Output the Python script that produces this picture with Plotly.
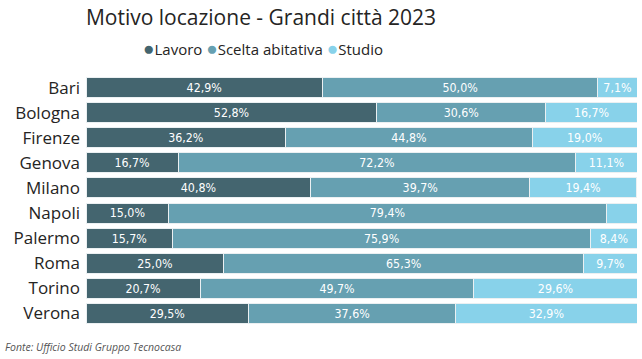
import plotly.graph_objects as go

cities = ["Bari", "Bologna", "Firenze", "Genova", "Milano", "Napoli", "Palermo", "Roma", "Torino", "Verona"]
lavoro = [42.9, 52.8, 36.2, 16.7, 40.8, 15.0, 15.7, 25.0, 20.7, 29.5]
scelta = [50.0, 30.6, 44.8, 72.2, 39.7, 79.4, 75.9, 65.3, 49.7, 37.6]
studio = [7.1, 16.7, 19.0, 11.1, 19.4, 5.6, 8.4, 9.7, 29.6, 32.9]

series = [
    ("Lavoro", lavoro, "#44656f"),
    ("Scelta abitativa", scelta, "#66a0b1"),
    ("Studio", studio, "#88d2ea"),
]

fig = go.Figure()
for name, vals, color in series:
    labels = [("%.1f%%" % v).replace(".", ",") if v >= 6 else "" for v in vals]
    fig.add_trace(go.Bar(
        y=cities, x=vals, name=name, orientation="h",
        marker=dict(color=color, line=dict(color="rgba(235,240,242,1)", width=1)),
        text=labels, textposition="inside", insidetextanchor="middle",
        textfont=dict(color="white", size=14, family="DejaVu Sans Condensed"),
        showlegend=False, hoverinfo="skip",
    ))

legend_text = "&nbsp;".join(
    "<span style='color:%s;font-size:19px'>●</span>%s" % (c, n) for n, _, c in series
)

W, H = 642, 359
L, R, T, B = 86, 5, 75, 33
pw = W - L - R
ph = H - T - B

fig.update_layout(
    barmode="stack",
    bargap=0.2,
    width=W, height=H,
    margin=dict(l=L, r=R, t=T, b=B),
    paper_bgcolor="white", plot_bgcolor="white",
    showlegend=False,
    title=dict(text="Motivo locazione - Grandi città 2023", xref="container", x=261 / W,
               xanchor="center", yref="container", y=1 - 18 / H, yanchor="middle",
               font=dict(family="Open Sans", size=21, color="#252423")),
    xaxis=dict(range=[0, 100], visible=False, fixedrange=True),
    yaxis=dict(autorange="reversed", showgrid=False, zeroline=False, showline=False,
               tickfont=dict(family="Open Sans", size=17, color="#252423"), ticks="",
               ticklabelstandoff=5, fixedrange=True),
    annotations=[
        dict(text=legend_text, xref="paper", yref="paper",
             x=(263 - L) / pw, y=1 + (T - 48) / ph, xanchor="center", yanchor="middle",
             showarrow=False, font=dict(family="Open Sans", size=15, color="#252423")),
        dict(text="<i>Fonte: Ufficio Studi Gruppo Tecnocasa</i>", xref="paper", yref="paper",
             x=(3 - L) / pw, y=-(347 - (H - B)) / ph, xanchor="left", yanchor="middle",
             showarrow=False, font=dict(family="Open Sans", size=10.5, color="#555555")),
    ],
)

fig.write_html("out.html", config={"displayModeBar": False},
               post_script="document.body.style.margin='0';")
